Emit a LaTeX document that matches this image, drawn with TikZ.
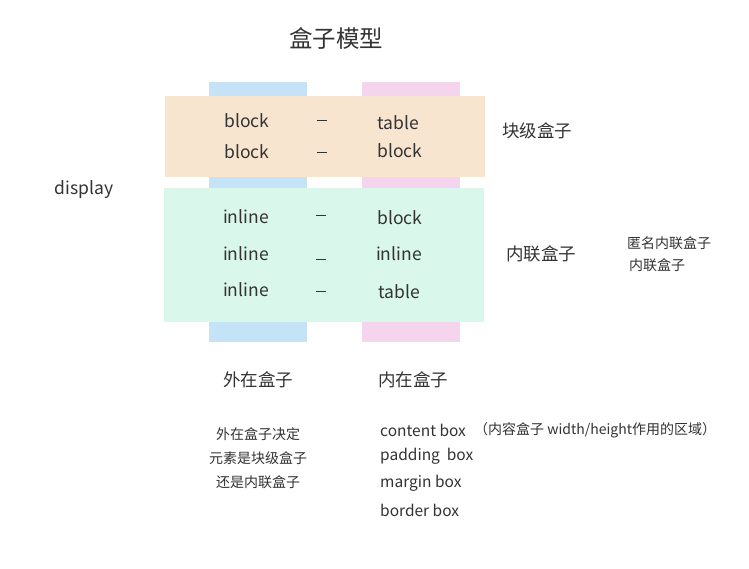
\documentclass[tikz,border=0pt]{standalone}
\usepackage{fontspec}
\setmainfont{Noto Sans CJK SC}
\definecolor{outerblue}{HTML}{C5E3F6}
\definecolor{innerpink}{HTML}{F5D5EE}
\definecolor{blockorange}{HTML}{F8E5D0}
\definecolor{inlinegreen}{HTML}{D9F7EA}
\definecolor{txt}{HTML}{333333}
\tikzset{
  lbl/.style={text=txt,inner sep=0pt,font=\fontsize{17.5}{20}\selectfont},
  heading/.style={text=txt,inner sep=0pt,font=\fontsize{17.5}{20}\selectfont},
  note/.style={text=txt,inner sep=0pt,font=\fontsize{14}{16}\selectfont},
  boxname/.style={text=txt,inner sep=0pt,anchor=west,font=\fontsize{15.5}{18}\selectfont},
  sep/.style={fill=txt,minimum width=10pt,minimum height=1pt,inner sep=0pt},
}
\begin{document}
\begin{tikzpicture}[x=1pt,y=-1pt]
  \useasboundingbox[fill=white] (0,0) rectangle (749,569);
  % columns
  \fill[outerblue] (209,82) rectangle (307,342);
  \fill[innerpink] (362,82) rectangle (460,342);
  % rows
  \fill[blockorange] (165,96) rectangle (485,177);
  \fill[inlinegreen] (164,188) rectangle (484,322);
  % title
  \node[text=txt,inner sep=0pt,font=\fontsize{23.5}{26}\selectfont] (title) at (336,39) {盒子模型};
  % table rows
  \node[lbl] (b1) at (247,121) {block};
  \node[sep] (d1) at (322,121) {};
  \node[lbl] (t1) at (398,123) {table};
  \node[lbl] (b2) at (247,152) {block};
  \node[sep] (d2) at (322,153) {};
  \node[lbl] (t2) at (400,151) {block};
  \node[lbl] (i1) at (246,217) {inline};
  \node[sep] (e1) at (321,216) {};
  \node[lbl] (k1) at (400,218) {block};
  \node[lbl] (i2) at (246,254) {inline};
  \node[sep] (e2) at (321,260) {};
  \node[lbl] (k2) at (399,254) {inline};
  \node[lbl] (i3) at (246,290) {inline};
  \node[sep] (e3) at (321,291) {};
  \node[lbl] (k3) at (399,292) {table};
  % side labels
  \node[heading] (blockbox) at (537,131) {块级盒子};
  \node[heading] (inlinebox) at (541,254) {内联盒子};
  \node[note] (anon) at (669,243) {匿名内联盒子};
  \node[note] (inl) at (657,265) {内联盒子};
  \node[heading] (display) at (84,190) {display};
  % bottom
  \node[heading] (outer) at (258,380) {外在盒子};
  \node[heading] (inner) at (413,380) {内在盒子};
  \node[note] (o1) at (258,434) {外在盒子决定};
  \node[note] (o2) at (258,458) {元素是块级盒子};
  \node[note] (o3) at (258,482) {还是内联盒子};
  \node[boxname] (c1) at (380,430) {content box};
  \node[note,anchor=west] (c1n) at (474,430) {（内容盒子 width/height作用的区域）};
  \node[boxname] (c2) at (380,456) {padding\ \ box};
  \node[boxname] (c3) at (380,483) {margin box};
  \node[boxname] (c4) at (380,510) {border box};
\end{tikzpicture}
\end{document}
